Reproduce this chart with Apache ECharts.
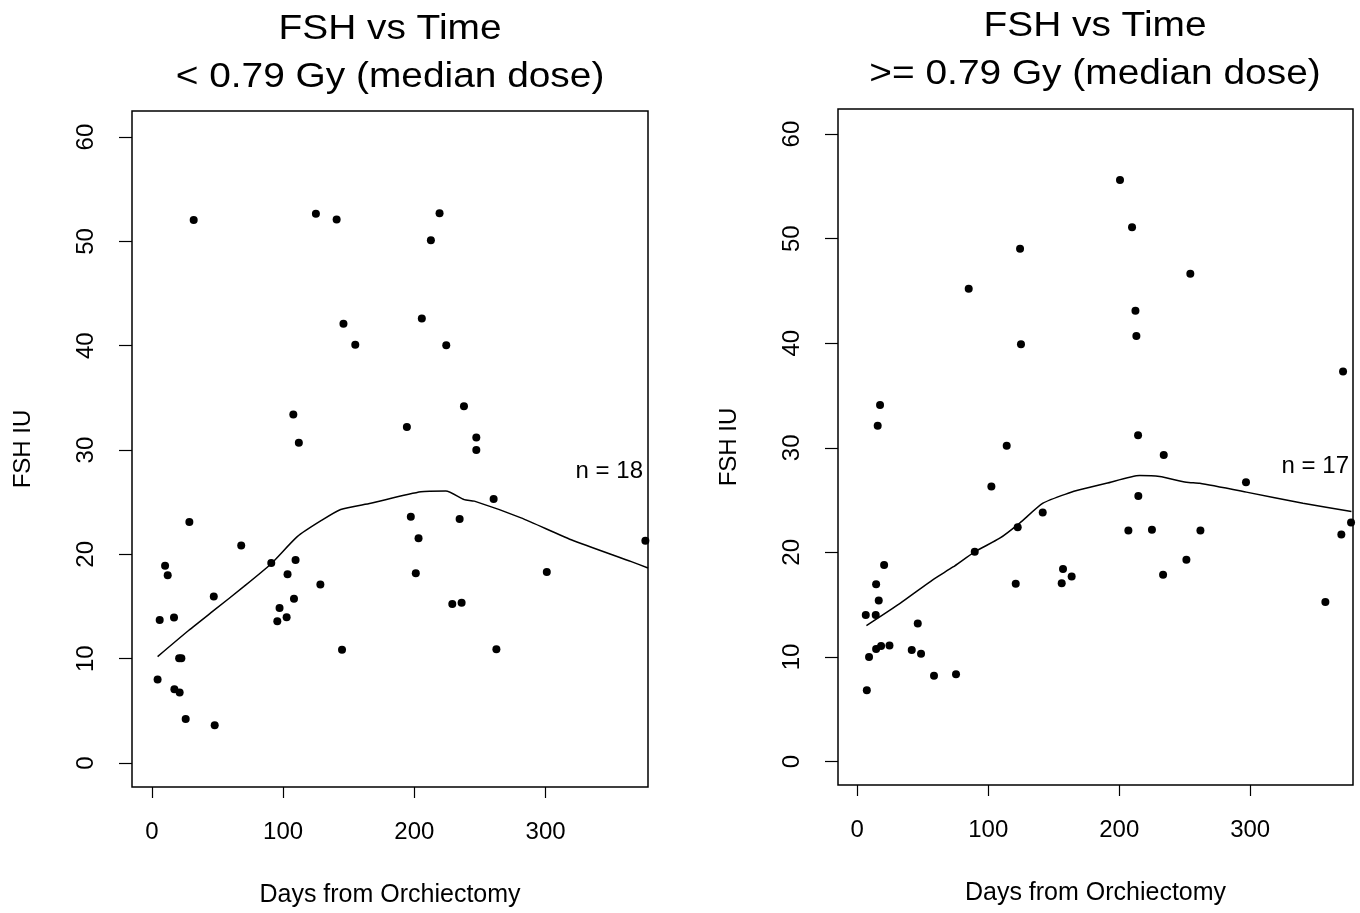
<!DOCTYPE html>
<html>
<head>
<meta charset="utf-8">
<script src="https://cdn.jsdelivr.net/npm/echarts@6/dist/echarts.min.js"></script>
<style>html,body{margin:0;padding:0;background:#fff}#c{width:1360px;height:913px}</style>
</head>
<body>
<div id="c"></div>
<script>
// ---- data ----
const titlesLeft = ['FSH vs Time', '< 0.79 Gy (median dose)'];
const titlesRight = ['FSH vs Time', '>= 0.79 Gy (median dose)'];
const xAxisName = 'Days from Orchiectomy';
const yAxisName = 'FSH IU';
const xTicks = [0, 100, 200, 300];
const yTicks = [0, 10, 20, 30, 40, 50, 60];
const nLeft = 'n = 18';
const nRight = 'n = 17';

const leftDays = [31.9,125,140.8,146,155,107.8,112,219.2,212.6,205.7,224.3,237.8,194.3,247.2,247.2,28.6,68.1,91,109.5,10.1,12.1,103.4,128.4,47.2,108.3,97.3,6.0,16.9,95.6,102.7,144.9,20.8,22.5,4.4,17.2,21.2,25.8,47.9,260.4,197.3,234.5,203.2,376,201.1,300.9,228.9,236,262.5];
const leftFsh = [52.05,52.65,52.1,42.1,40.1,33.4,30.7,52.7,50.1,42.6,40.05,34.2,32.2,31.2,30.0,23.1,20.85,19.17,19.45,18.9,18.0,18.1,17.1,15.95,15.75,14.85,13.7,13.95,13.6,13.97,10.86,10.03,10.03,8.0,7.07,6.75,4.23,3.63,25.3,23.6,23.4,21.55,21.3,18.2,18.3,15.25,15.35,10.9];
const leftCurveDays = [4.4,28,47,70,90.5,110.8,128.6,143.9,166.8,205,224,238,245.7,281.3,319.5,365.3,378];
const leftCurveFsh = [10.2,12.7,14.6,16.9,19.05,21.7,23.2,24.3,24.9,26.0,26.07,25.25,25.1,23.5,21.4,19.3,18.7];

const rightDays = [124.3,85.1,125,17.4,15.6,114.1,200.6,209.8,254.3,212.4,213.1,370.9,214.4,102.4,141.6,122.5,89.7,20.5,157.1,163.7,121,156.1,14.4,16.4,6.5,14.1,46.2,14.4,18.2,24.6,9.0,41.6,48.7,58.6,75.4,7.3,234,296.8,214.6,207,225,262,377,369.6,251.3,233.5,357.4];
const rightFsh = [49.04,45.2,39.9,34.1,32.1,30.2,55.6,51.1,46.65,43.1,40.7,37.3,31.2,26.3,23.8,22.4,20.05,18.8,18.4,17.7,17.0,17.05,16.95,15.4,14.0,14.0,13.2,10.75,11.05,11.1,10.0,10.67,10.3,8.2,8.35,6.8,29.3,26.7,25.4,22.1,22.15,22.1,22.85,21.7,19.3,17.85,15.26];
const rightCurveDays = [7,32.4,57.9,73.1,89.7,108.8,124,141.8,162.2,169.8,190.2,215.6,230.9,251.3,261.5,297.1,340.3,377.3];
const rightCurveFsh = [13.0,15.1,17.4,18.6,20.05,21.35,22.8,24.7,25.7,25.98,26.6,27.35,27.25,26.7,26.6,25.76,24.7,23.9];

// ---- chart ----
const zip = (a, b) => a.map((v, i) => [v, b[i]]);
const FONT = "'Liberation Sans', Arial, Helvetica, sans-serif";
const grids = [
  {left: 132, top: 111, width: 516, height: 679},
  {left: 838, top: 109, width: 515, height: 676}
];
const xRanges = [[-15.1, 378], [-14.7, 378.5]];
const yRanges = [[-2.3, 62.5], [-2.25, 62.4]];

function xAxis(i) {
  return {
    type: 'value', gridIndex: i, min: xRanges[i][0], max: xRanges[i][1],
    name: xAxisName, nameLocation: 'middle', nameGap: 96,
    nameTextStyle: {fontFamily: FONT, fontSize: 25, color: '#000'},
    axisLine: {show: false, onZero: false},
    axisTick: {show: true, length: 11, lineStyle: {color: '#000', width: 1.2}, customValues: xTicks},
    axisLabel: {margin: 33, fontFamily: FONT, fontSize: 24, color: '#000', customValues: xTicks},
    splitLine: {show: false}
  };
}
function yAxis(i) {
  return {
    type: 'value', gridIndex: i, min: yRanges[i][0], max: yRanges[i][1],
    name: yAxisName, nameLocation: 'middle', nameGap: 97,
    nameTextStyle: {fontFamily: FONT, fontSize: 24, color: '#000'},
    axisLine: {show: false, onZero: false},
    axisTick: {show: true, length: 13, lineStyle: {color: '#000', width: 1.2}, customValues: yTicks},
    axisLabel: {margin: 34, rotate: 90, fontFamily: FONT, fontSize: 24, color: '#000', customValues: yTicks},
    splitLine: {show: false}
  };
}
function titleText(lines, cx, y0) {
  return lines.map((t, k) => ({
    type: 'text', x: cx, y: y0 + k * 48, scaleX: 1.11,
    style: {text: t, fontFamily: FONT, fontSize: 35, fill: '#000', textAlign: 'center', textVerticalAlign: 'middle'}
  }));
}

const chart = echarts.init(document.getElementById('c'), null, {renderer: 'canvas'});
chart.setOption({
  backgroundColor: '#fff',
  animation: false,
  grid: grids.map(g => Object.assign({show: true, borderColor: '#000', borderWidth: 1.5, backgroundColor: 'transparent'}, g)),
  xAxis: [xAxis(0), xAxis(1)],
  yAxis: [yAxis(0), yAxis(1)],
  graphic: [].concat(
    titleText(titlesLeft, 390, 29),
    titleText(titlesRight, 1095, 26),
    [
      {type: 'text', right: 1360 - 643, top: 459, style: {text: nLeft, fontFamily: FONT, fontSize: 24, fill: '#000'}},
      {type: 'text', right: 1360 - 1349, top: 454, style: {text: nRight, fontFamily: FONT, fontSize: 24, fill: '#000'}}
    ]
  ),
  series: [
    {type: 'scatter', xAxisIndex: 0, yAxisIndex: 0, data: zip(leftDays, leftFsh), symbol: 'circle', symbolSize: 8, itemStyle: {color: '#000', opacity: 1}},
    {type: 'line', xAxisIndex: 0, yAxisIndex: 0, data: zip(leftCurveDays, leftCurveFsh), showSymbol: false, smooth: 0.2, lineStyle: {color: '#000', width: 1.5}},
    {type: 'scatter', xAxisIndex: 1, yAxisIndex: 1, data: zip(rightDays, rightFsh), symbol: 'circle', symbolSize: 8, itemStyle: {color: '#000', opacity: 1}},
    {type: 'line', xAxisIndex: 1, yAxisIndex: 1, data: zip(rightCurveDays, rightCurveFsh), showSymbol: false, smooth: 0.2, lineStyle: {color: '#000', width: 1.5}}
  ]
});
</script>
</body>
</html>
